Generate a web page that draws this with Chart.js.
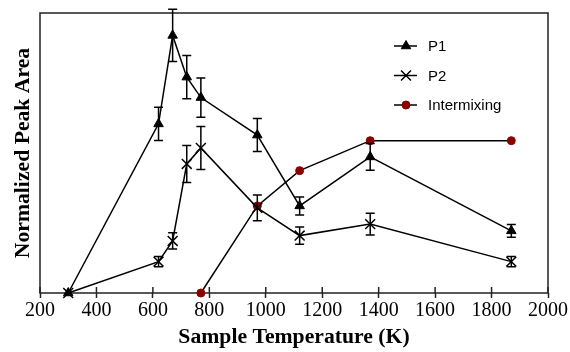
<!DOCTYPE html>
<html>
<head>
<meta charset="utf-8">
<script src="https://cdn.jsdelivr.net/npm/chart.js"></script>
<style>
  body { margin: 0; background: #fff; }
  #wrap { width: 570px; height: 352px; position: relative; }
</style>
</head>
<body>
<div id="wrap"><canvas id="chart" width="570" height="352"></canvas></div>
<script>
// Sample temperatures (K)
const tempsP = [300, 620, 670, 720, 770, 970, 1120, 1370, 1870];
const tempsMix = [770, 970, 1120, 1370, 1870];

// Normalized peak areas (arbitrary units, 0..1)
const p1 = [0, 0.604, 0.92, 0.771, 0.698, 0.564, 0.311, 0.486, 0.222];
const p1Err = [0, 0.059, 0.093, 0.077, 0.07, 0.059, 0.032, 0.048, 0.023];
const p2 = [0, 0.112, 0.186, 0.461, 0.518, 0.304, 0.205, 0.246, 0.112];
const p2Err = [0, 0.018, 0.029, 0.066, 0.077, 0.046, 0.031, 0.039, 0.018];
const mix = [0, 0.311, 0.437, 0.544, 0.544];

const xTicks = [200, 400, 600, 800, 1000, 1200, 1400, 1600, 1800, 2000];

const serif = "'Liberation Serif', 'Times New Roman', serif";
const sans = "'Liberation Sans', Arial, sans-serif";
const frameColor = '#222';
const mixColor = '#8b0000';

const toPoints = (xs, ys) => xs.map((x, i) => ({ x: x, y: ys[i] }));

// error bars, inner tick marks, frame and legend
const extras = {
    id: 'extras',
    beforeDatasetsDraw(chart) {
        const { ctx, chartArea: a, scales } = chart;
        ctx.save();
        ctx.strokeStyle = frameColor;
        ctx.lineWidth = 1.5;
        ctx.strokeRect(a.left, a.top, a.right - a.left, a.bottom - a.top);
        // ticks poking into the plot
        ctx.beginPath();
        xTicks.forEach(t => {
            const px = scales.x.getPixelForValue(t);
            ctx.moveTo(px, a.bottom);
            ctx.lineTo(px, a.bottom - 6);
        });
        ctx.stroke();
        ctx.restore();
    },
    afterDatasetsDraw(chart) {
        const { ctx, scales } = chart;
        ctx.save();
        ctx.strokeStyle = '#000';
        ctx.lineWidth = 1.5;
        chart.data.datasets.forEach(ds => {
            if (!ds.errors) return;
            ds.data.forEach((pt, i) => {
                const e = ds.errors[i];
                if (!e) return;
                const px = scales.x.getPixelForValue(pt.x);
                const hi = scales.y.getPixelForValue(pt.y + e);
                const lo = scales.y.getPixelForValue(pt.y - e);
                ctx.beginPath();
                ctx.moveTo(px, hi); ctx.lineTo(px, lo);
                ctx.moveTo(px - 4.5, hi); ctx.lineTo(px + 4.5, hi);
                ctx.moveTo(px - 4.5, lo); ctx.lineTo(px + 4.5, lo);
                ctx.stroke();
            });
        });
        ctx.restore();
    },
    afterDraw(chart) {
        const { ctx } = chart;
        const rows = [46, 75.5, 105];
        ctx.save();
        ctx.font = '15px ' + sans;
        ctx.textBaseline = 'middle';
        chart.data.datasets.forEach((ds, i) => {
            const y = rows[i];
            ctx.strokeStyle = '#000';
            ctx.lineWidth = 1.5;
            ctx.beginPath();
            ctx.moveTo(394, y); ctx.lineTo(417, y);
            ctx.stroke();
            const opts = {
                pointStyle: ds.pointStyle,
                radius: ds.pointRadius,
                rotation: 0,
                borderWidth: ds.pointBorderWidth
            };
            ctx.fillStyle = ds.pointBackgroundColor;
            ctx.strokeStyle = ds.pointBorderColor;
            ctx.lineWidth = ds.pointBorderWidth;
            Chart.helpers.drawPoint(ctx, opts, 406, y);
            ctx.fillStyle = '#000';
            ctx.fillText(ds.label, 428, y + 1);
        });
        ctx.restore();
    }
};

new Chart(document.getElementById('chart'), {
    type: 'line',
    data: {
        datasets: [
            {
                label: 'P1',
                data: toPoints(tempsP, p1),
                errors: p1Err,
                borderColor: '#000',
                borderWidth: 1.5,
                pointStyle: 'triangle',
                pointRadius: 5.5,
                pointBackgroundColor: '#000',
                pointBorderColor: '#000',
                pointBorderWidth: 1,
                clip: false
            },
            {
                label: 'P2',
                data: toPoints(tempsP, p2),
                errors: p2Err,
                borderColor: '#000',
                borderWidth: 1.5,
                pointStyle: 'crossRot',
                pointRadius: 7,
                pointBackgroundColor: '#000',
                pointBorderColor: '#000',
                pointBorderWidth: 1.5,
                clip: false
            },
            {
                label: 'Intermixing',
                data: toPoints(tempsMix, mix),
                borderColor: '#000',
                borderWidth: 1.5,
                pointStyle: 'circle',
                pointRadius: 4,
                pointBackgroundColor: mixColor,
                pointBorderColor: mixColor,
                pointBorderWidth: 1,
                clip: false
            }
        ]
    },
    options: {
        responsive: false,
        animation: false,
        events: [],
        layout: { padding: { top: 13, right: 22, left: 0, bottom: 0 } },
        plugins: { legend: { display: false }, tooltip: { enabled: false } },
        elements: { line: { tension: 0 } },
        scales: {
            x: {
                type: 'linear',
                min: 200,
                max: 2000,
                afterBuildTicks(scale) {
                    scale.ticks = xTicks.map(v => ({ value: v }));
                },
                afterFit(scale) { scale.height = 59; },
                ticks: {
                    color: '#000',
                    font: { family: serif, size: 20 },
                    padding: 1,
                    maxRotation: 0,
                    autoSkip: false,
                    callback: v => String(v)
                },
                grid: {
                    drawOnChartArea: false,
                    drawTicks: true,
                    tickLength: 5,
                    tickWidth: 1.5,
                    tickColor: frameColor
                },
                border: { display: false },
                title: {
                    display: true,
                    text: 'Sample Temperature (K)',
                    color: '#000',
                    font: { family: serif, size: 21.7, weight: 'bold' },
                    padding: { top: 0, bottom: 2 }
                }
            },
            y: {
                min: 0,
                max: 1,
                afterFit(scale) { scale.width = 40; },
                ticks: { display: false },
                grid: { display: false },
                border: { display: false },
                title: {
                    display: true,
                    text: 'Normalized Peak Area',
                    color: '#000',
                    font: { family: serif, size: 21.7, weight: 'bold' },
                    padding: { top: 10, bottom: 0 }
                }
            }
        }
    },
    plugins: [extras]
});
</script>
</body>
</html>
